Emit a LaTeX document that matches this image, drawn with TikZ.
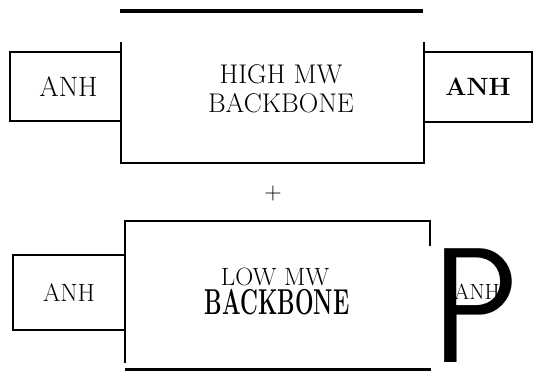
\documentclass[tikz,border=0pt]{standalone}
\usepackage{tikz}
\usetikzlibrary{positioning}
\begin{document}
\begin{tikzpicture}[x=1pt, y=-1pt, line width=1.6pt]
\tikzstyle{anh}=[draw, inner sep=0pt, font=\fontsize{28}{28}\selectfont]
\tikzstyle{heavy}=[line width=3.5pt]
\tikzstyle{lbl}=[inner sep=0pt, align=center]
\useasboundingbox (0,0) rectangle (539,372);
% upper backbone
\draw[heavy] (120,11) -- (423,11);
\draw (121,42) -- (121,163);
\draw (424,42) -- (424,163);
\draw[line width=2.8pt] (120,163) -- (425,163);
\node[anh, minimum width=111pt, minimum height=69pt] (anhtl) at (65.5,86.5) {\hspace{6pt}ANH};
\node[anh, minimum width=108pt, minimum height=70pt,
  font=\fontsize{25}{25}\selectfont\bfseries] (anhtr) at (478,87) {ANH\hspace{10pt}};
\node[lbl, font=\fontsize{27}{29}\selectfont] (high) at (281,89) {HIGH MW\\BACKBONE};
\node[lbl, font=\fontsize{24}{24}\selectfont] (plus) at (273,194) {+};
% lower backbone
\draw (125,363) -- (125,221) -- (430,221) -- (430,246);
\draw[line width=3pt] (125,369) -- (431,369);
\node[anh, minimum width=112pt, minimum height=75pt,
  font=\fontsize{25}{25}\selectfont] (anhbl) at (69,292.5) {ANH};
\node[lbl, anchor=base, font=\fontsize{25}{25}\selectfont] (low) at (275,285) {LOW MW};
\node[lbl, anchor=base, font=\fontsize{36}{36}\selectfont\bfseries] (lowbb) at (277,314)
  {\scalebox{0.61}[1]{BACKBONE}};
\node[lbl, font=\fontsize{22}{22}\selectfont] (anhbr) at (477,292) {ANH};
\node[lbl, font=\fontsize{164}{164}\selectfont\sffamily] (bigp) at (476,306) {\scalebox{0.9}[1]{P}};
\end{tikzpicture}
\end{document}
